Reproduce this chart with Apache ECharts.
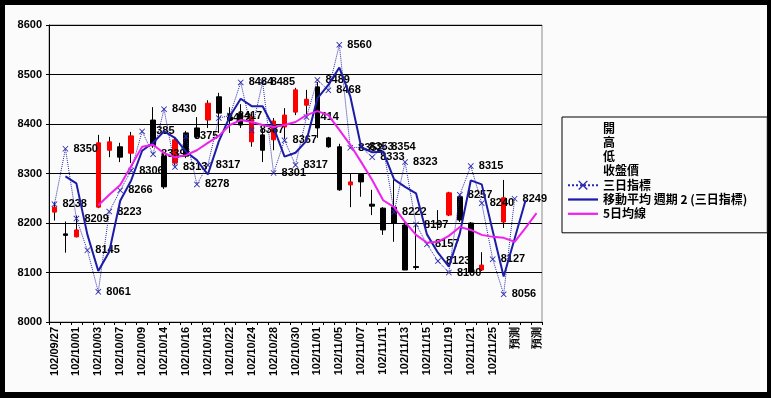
<!DOCTYPE html>
<html>
<head>
<meta charset="utf-8">
<script src="https://cdn.jsdelivr.net/npm/echarts@6/dist/echarts.min.js"></script>
<style>
  html, body { margin: 0; padding: 0; background: #000; }
  #chart { width: 771px; height: 398px; }
</style>
</head>
<body>
<div id="chart"></div>
<script>
// 日期 (最後三格為預測)
var categories = [
  "102/09/27", "102/09/30", "102/10/01", "102/10/02", "102/10/03", "102/10/04",
  "102/10/07", "102/10/08", "102/10/09", "102/10/11", "102/10/14", "102/10/15",
  "102/10/16", "102/10/17", "102/10/18", "102/10/21", "102/10/22", "102/10/23",
  "102/10/24", "102/10/25", "102/10/28", "102/10/29", "102/10/30", "102/10/31",
  "102/11/01", "102/11/04", "102/11/05", "102/11/06", "102/11/07", "102/11/08",
  "102/11/11", "102/11/12", "102/11/13", "102/11/14", "102/11/15", "102/11/18",
  "102/11/19", "102/11/20", "102/11/21", "102/11/22", "102/11/25", "102/11/26",
  "預測", "預測", "預測"
];

// K線: 開 / 收盤價 / 低 / 高
var openVals = [8222, 8178, 8172, null, 8232, 8347, 8354, 8341, null, 8408, 8335, 8321,
  8382, 8392, 8408, 8455, 8414, 8420, 8364, 8378, 8368, 8394, 8424, 8438,
  8475, 8372, 8354, 8277, 8298, 8238, 8230, 8232, 8196, 8112, null, 8200,
  8216, 8253, 8200, 8105, null, 8202, null, null, null];
var closeVals = [8232, 8175, 8186, null, 8362, 8364, 8333, 8376, null, 8356, 8273, 8368,
  8335, 8374, 8442, 8422, 8408, 8398, 8414, 8347, 8406, 8418, 8469, 8450,
  8392, 8354, 8267, 8283, 8283, 8234, 8186, 8200, 8105, 8110, null, 8198,
  8261, 8206, 8101, 8115, null, 8251, null, null, null];
var lowVals = [8205, 8140, 8171, null, 8230, 8333, 8323, 8321, null, 8352, 8269, 8317,
  8331, 8372, 8392, 8382, 8382, 8392, 8354, 8323, 8347, 8370, 8418, 8418,
  8372, 8352, 8265, 8232, 8253, 8216, 8176, 8162, 8105, 8105, null, 8186,
  8214, 8202, 8099, 8103, null, 8190, null, null, null];
var highVals = [8242, 8203, 8215, null, 8378, 8374, 8362, 8384, null, 8434, 8343, 8372,
  8386, 8414, 8448, 8463, 8434, 8440, 8422, 8392, 8412, 8432, 8473, 8469,
  8485, 8374, 8360, 8300, 8301, 8267, 8232, 8287, 8202, 8200, null, 8226,
  8263, 8255, 8202, 8141, null, 8287, null, null, null];

// 三日指標
var sanVals = [8238, 8350, 8209, 8145, 8061, 8223, 8266, 8306, 8385, 8339, 8430, 8313,
  8375, 8278, 8317, 8412, 8417, 8484, 8387, 8485, 8301, 8367, 8317, 8414,
  8489, 8468, 8560, 8352, 8353, 8333, 8354, 8222, 8323, 8197, 8157, 8123,
  8100, 8257, 8315, 8240, 8127, 8056, 8249, null, null];

// 移動平均 週期 2 (三日指標)
var maVals = [null, 8294, 8280, 8177, 8103, 8142, 8245, 8286, 8346, 8362, 8385, 8372,
  8344, 8327, 8298, 8365, 8415, 8451, 8436, 8436, 8393, 8334, 8342, 8366,
  8452, 8479, 8514, 8456, 8353, 8343, 8344, 8288, 8273, 8260, 8177, 8140,
  8112, 8179, 8286, 8278, 8184, 8092, 8168, 8246, null];

// 5日均線
var ma5Vals = [null, null, null, null, 8236, 8257, 8277, 8315, 8354, 8358, 8341, 8333,
  8337, 8347, 8362, 8376, 8398, 8408, 8404, 8398, 8394, 8398, 8404, 8418,
  8426, 8418, 8388, 8358, 8323, 8287, 8246, 8232, 8202, 8176, 8160, 8162,
  8174, 8192, 8186, 8176, 8172, 8170, 8162, 8190, 8220];

var yMin = 8000, yMax = 8600, yStep = 100;

var wickData = categories.map(function (c, i) {
  if (openVals[i] == null) return "-";
  return [lowVals[i], lowVals[i], lowVals[i], highVals[i]];
});
var bodyData = categories.map(function (c, i) {
  if (openVals[i] == null) return "-";
  var o = openVals[i], cl = closeVals[i];
  return [o, cl, Math.min(o, cl), Math.max(o, cl)];
});

var xMark = "path://M0,1L1,0L5,4L9,0L10,1L6,5L10,9L9,10L5,6L1,10L0,9L4,5Z";
var lineIcon = "path://M0,0H40V3H0Z";
var numFont = "Liberation Sans";
var cjkFont = "Noto Sans CJK TC";

var myChart = echarts.init(document.getElementById("chart"), null, { renderer: "canvas" });
var option = {
  backgroundColor: "#000",
  animation: false,
  graphic: [
    {
      type: "rect",
      z: -10,
      silent: true,
      shape: { x: 5, y: 5, width: 762, height: 387 },
      style: { fill: "#fbfbfb" },
    },
  ],
  grid: {
    left: 49,
    right: 229,
    top: 25,
    bottom: 76,
    show: true,
    borderColor: "#8a8a8a",
    borderWidth: 1,
    backgroundColor: "transparent",
  },
  legend: {
    orient: "vertical",
    left: 562,
    top: 117,
    padding: [5, 20, 13, 5],
    itemWidth: 30,
    itemHeight: 12,
    itemGap: 2.3,
    symbolKeepAspect: true,
    borderColor: "#000",
    borderWidth: 1,
    backgroundColor: "#fbfbfb",
    textStyle: { fontFamily: cjkFont, fontSize: 12, fontWeight: "bold", color: "#000", lineHeight: 12 },
    data: [
      { name: "開", icon: "none" },
      { name: "高", icon: "none" },
      { name: "低", icon: "none" },
      { name: "收盤價", icon: "none" },
      "三日指標",
      { name: "移動平均 週期 2 (三日指標)", icon: lineIcon },
      { name: "5日均線", icon: lineIcon },
    ],
  },
  xAxis: [
    {
      type: "category",
      data: categories,
      boundaryGap: true,
      axisLine: { show: true, lineStyle: { color: "#000", width: 1 } },
      axisTick: { show: true, interval: 0, length: 3, lineStyle: { color: "#000" } },
      axisLabel: {
        interval: 1,
        rotate: 90,
        margin: 5,
        fontFamily: numFont,
        fontSize: 11,
        fontWeight: "bold",
        color: "#000",
      },
      splitLine: { show: false },
    },
  ],
  yAxis: [
    {
      type: "value",
      min: yMin,
      max: yMax,
      interval: yStep,
      axisLine: { show: true, lineStyle: { color: "#000", width: 1 } },
      axisTick: { show: true, length: 3, lineStyle: { color: "#000" } },
      axisLabel: {
        margin: 7,
        fontFamily: numFont,
        fontSize: 11,
        fontWeight: "bold",
        color: "#000",
        formatter: function (v) {
          return String(v);
        },
      },
      splitLine: { show: true, lineStyle: { color: "#000", width: 1 } },
    },
  ],
  series: [
    // 高低線
    {
      name: "高",
      type: "candlestick",
      barWidth: 1,
      data: wickData,
      itemStyle: { color: "#000", color0: "#000", borderColor: "#000", borderColor0: "#000", borderWidth: 1 },
      z: 2,
    },
    // K棒實體
    {
      name: "開",
      type: "candlestick",
      barWidth: 5,
      data: bodyData,
      itemStyle: { color: "#ff0000", color0: "#000", borderColor: "#ff0000", borderColor0: "#000", borderWidth: 1 },
      z: 3,
    },
    { name: "低", type: "line", data: [] },
    { name: "收盤價", type: "line", data: [] },
    {
      name: "三日指標",
      type: "line",
      data: sanVals,
      symbol: xMark,
      symbolSize: 6,
      showAllSymbol: true,
      color: "#2a2ab0",
      lineStyle: { color: "#2a2ab0", width: 1, type: "dotted" },
      itemStyle: { color: "#2a2ab0" },
      label: {
        show: true,
        position: "right",
        distance: 5,
        fontFamily: numFont,
        fontSize: 11,
        fontWeight: "bold",
        color: "#000",
      },
      z: 4,
    },
    {
      name: "移動平均 週期 2 (三日指標)",
      type: "line",
      data: maVals,
      symbol: "none",
      color: "#1c1ca8",
      lineStyle: { color: "#1c1ca8", width: 2 },
      z: 5,
    },
    {
      name: "5日均線",
      type: "line",
      data: ma5Vals,
      symbol: "none",
      color: "#ee22ee",
      lineStyle: { color: "#ee22ee", width: 2 },
      z: 5,
    },
  ],
};
myChart.setOption(option);
</script>
</body>
</html>
